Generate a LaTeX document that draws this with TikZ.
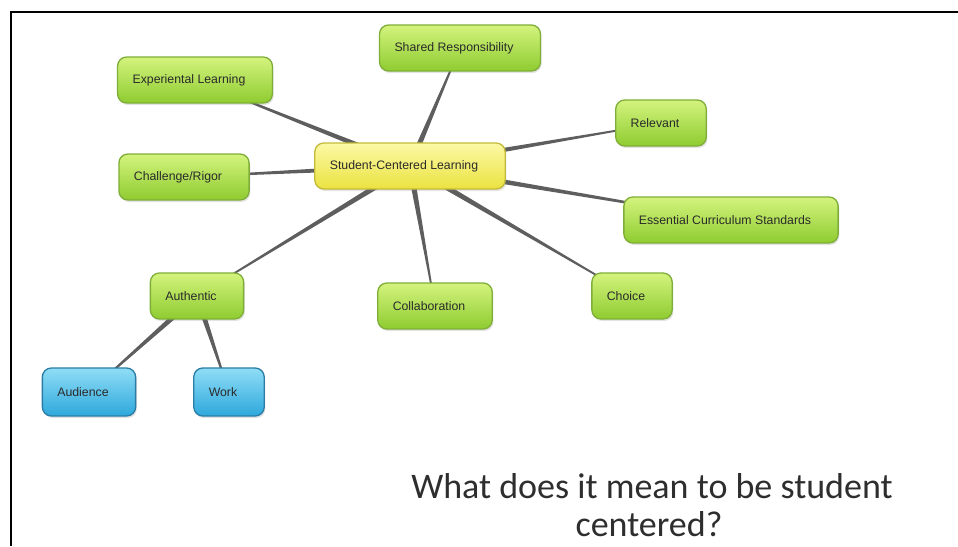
\documentclass[tikz,border=0pt]{standalone}
\usepackage{fontspec}
\setmainfont{Liberation Sans}
\newfontfamily\titlefont{Carlito}
\usetikzlibrary{calc,backgrounds,shadows}
\definecolor{gtop}{HTML}{D4F37E}
\definecolor{gbot}{HTML}{8ECC30}
\definecolor{gborder}{HTML}{7FAE38}
\definecolor{ytop}{HTML}{FCF9A6}
\definecolor{ybot}{HTML}{EAE240}
\definecolor{yborder}{HTML}{C4BA3A}
\definecolor{btop}{HTML}{8FDDF6}
\definecolor{bbot}{HTML}{2EA8DC}
\definecolor{bborder}{HTML}{2B7DA5}
\definecolor{txt}{HTML}{2A2A2A}
\definecolor{conn}{HTML}{5E5E5E}
\newcommand\taperline[2]{%
  \fill[conn] ($(#1.center)!3pt!90:(#2.center)$) --
              ($(#2.center)!0.5pt!-90:(#1.center)$) --
              ($(#2.center)!0.5pt!90:(#1.center)$) --
              ($(#1.center)!3pt!-90:(#2.center)$) -- cycle;}
\begin{document}
\begin{tikzpicture}[x=1pt,y=-1pt,
  box/.style={rounded corners=9pt, line width=1.3pt, minimum height=46pt,
    inner xsep=15pt, inner ysep=0pt, font=\fontsize{12.3}{14}\selectfont,
    text=txt, execute at end node={\kern12pt},
    drop shadow={shadow xshift=1.2pt, shadow yshift=-2pt, opacity=0.22}},
  gbox/.style={box, draw=gborder, top color=gtop, bottom color=gbot},
  ybox/.style={box, draw=yborder, top color=ytop, bottom color=ybot},
  bbox/.style={box, draw=bborder, top color=btop, bottom color=bbot, minimum height=48pt},
  title/.style={font=\titlefont\fontsize{36}{38}\selectfont, text=black!82, anchor=base, inner sep=0pt}
]
\useasboundingbox (0,0) rectangle (958,546);
\draw[line width=2.4pt] (11,546) -- (11,12) -- (958,12);

\node[ybox] (cen) at (410,166) {Student-Centered Learning};
\node[gbox] (exp) at (195,80) {Experiental Learning};
\node[gbox] (shr) at (460,48) {Shared Responsibility};
\node[gbox] (rel) at (661,123) {Relevant};
\node[gbox] (chl) at (184,177) {Challenge/Rigor};
\node[gbox] (ess) at (731,220) {Essential Curriculum Standards};
\node[gbox] (col) at (435,306) {Collaboration};
\node[gbox] (cho) at (632,296) {Choice};
\node[gbox] (aut) at (197,296) {Authentic};
\node[bbox] (aud) at (89,392) {Audience};
\node[bbox] (wrk) at (229,392) {Work};

\begin{pgfonlayer}{background}
\taperline{cen}{exp}
\taperline{cen}{shr}
\taperline{cen}{rel}
\taperline{cen}{chl}
\taperline{cen}{ess}
\taperline{cen}{col}
\taperline{cen}{cho}
\taperline{cen}{aut}
\taperline{aut}{aud}
\taperline{aut}{wrk}
\end{pgfonlayer}

\node[title] (t1) at (652,498) {What does it mean to be student};
\node[title] (t2) at (649,536) {centered?};
\end{tikzpicture}
\end{document}
